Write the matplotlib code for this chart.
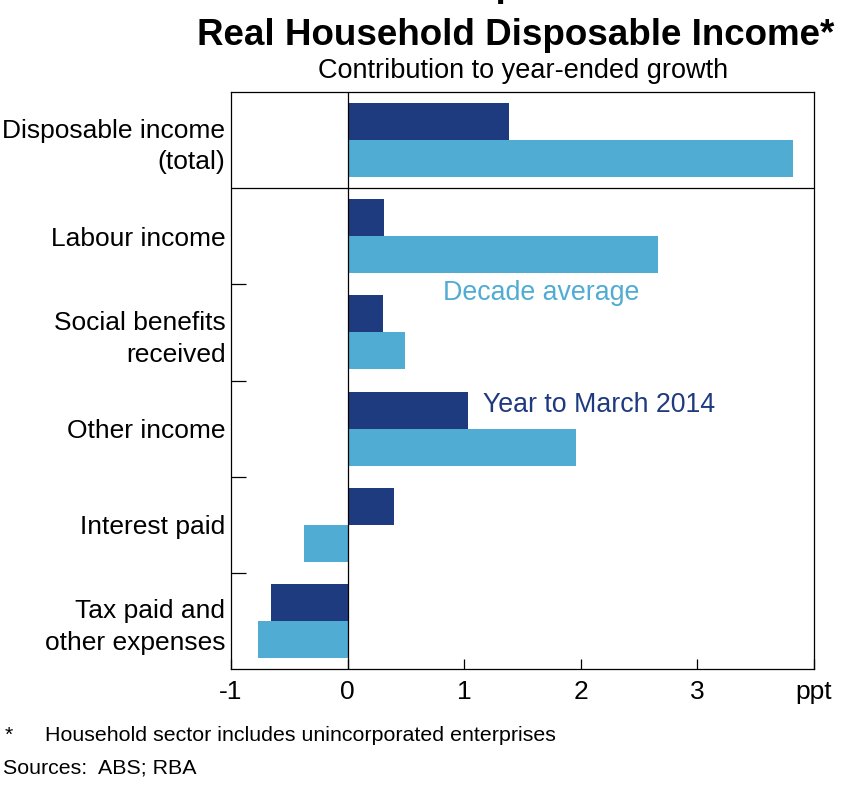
import numpy as np
import matplotlib
matplotlib.use('Agg')
import matplotlib.pyplot as plt

plt.rcParams['font.family'] = ['Liberation Sans', 'DejaVu Sans']

# Data (ppt contribution to year-ended growth)
categories = ['Disposable income\n(total)', 'Labour income', 'Social benefits\nreceived',
              'Other income', 'Interest paid', 'Tax paid and\nother expenses']
year_to_mar14 = [1.38, 0.31, 0.30, 1.03, 0.40, -0.66]
decade_avg = [3.82, 2.66, 0.49, 1.96, -0.37, -0.77]
x_ticks = [-1, 0, 1, 2, 3, 4]
x_labels = ['-1', '0', '1', '2', '3', 'ppt']

dark = '#1F3B7F'
light = '#50ACD3'

fig = plt.figure(figsize=(8.5, 7.9), dpi=100)
ax = fig.add_axes([231 / 850, 1 - 669 / 790, (814 - 231) / 850, (669 - 92) / 790])

y = np.arange(len(categories))
h = 0.385
ax.barh(y - h / 2, year_to_mar14, height=h, color=dark, zorder=2)
ax.barh(y + h / 2, decade_avg, height=h, color=light, zorder=2)

ax.set_xlim(-1, 4)
ax.set_ylim(len(categories) - 0.5, -0.5)
ax.axvline(0, color='black', lw=0.9, zorder=3)
ax.axhline(0.5, color='black', lw=0.9, zorder=3)

for s in ax.spines.values():
    s.set_linewidth(0.9)

ax.set_xticks(x_ticks)
ax.set_xticklabels(x_labels)
ax.tick_params(axis='x', direction='in', length=7, width=0.9, labelsize=19, pad=8,
               top=False)
ax.set_yticks(y)
ax.set_yticklabels(categories, linespacing=1.4)
ax.set_yticks(np.arange(1.5, len(categories) - 0.5, 1), minor=True)
ax.tick_params(axis='y', which='major', length=0, labelsize=19, pad=4)
ax.tick_params(axis='y', which='minor', direction='in', length=11, width=0.9)

ax.text(0.82, 1.59, 'Decade average', color=light, fontsize=19.3, va='center', ha='left')
ax.text(1.16, 2.755, 'Year to March 2014', color=dark, fontsize=19.3, va='center', ha='left')

# Titles (first line cut off at the top edge in the original)
fig.text(414 / 850, 1 + 4 / 790, 'Components of', fontsize=26.5, fontweight='bold',
         ha='left', va='baseline')
fig.text(516 / 850, 1 - 45 / 790, 'Real Household Disposable Income*', fontsize=26.5,
         fontweight='bold', ha='center', va='baseline')
fig.text(523 / 850, 1 - 78 / 790, 'Contribution to year-ended growth', fontsize=19.5,
         ha='center', va='baseline')

# Footnotes
fig.text(5 / 850, 1 - 741 / 790, '*', fontsize=15.4, ha='left', va='baseline')
fig.text(45 / 850, 1 - 741 / 790, 'Household sector includes unincorporated enterprises',
         fontsize=15.4, ha='left', va='baseline')
fig.text(3 / 850, 1 - 774 / 790, 'Sources:  ABS; RBA', fontsize=15.4, ha='left', va='baseline')

fig.savefig('out.png', dpi=100)
